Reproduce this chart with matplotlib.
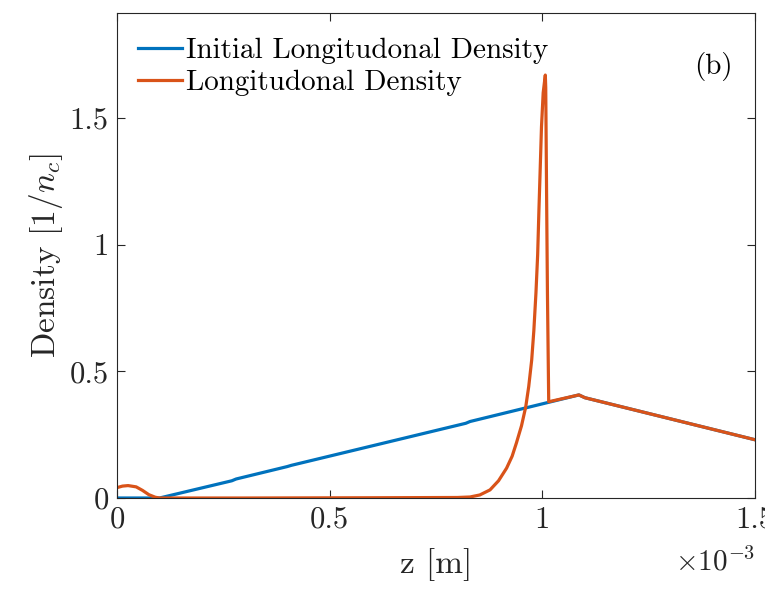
import matplotlib
matplotlib.use("Agg")
import matplotlib.pyplot as plt

plt.rcParams['font.family'] = 'serif'
plt.rcParams['font.serif'] = ['cmr10', 'DejaVu Serif']
plt.rcParams['mathtext.fontset'] = 'cm'
plt.rcParams['axes.unicode_minus'] = False

# z in units of 1e-3 m
z_init = [0.0, 0.10, 0.27, 0.28, 0.40, 0.41, 0.82, 0.83, 1.086, 1.10, 1.50]
n_init = [0.0, 0.0, 0.068, 0.075, 0.124, 0.129, 0.295, 0.302, 0.407, 0.396, 0.230]

z_long = [0.0, 0.013, 0.026, 0.045, 0.06, 0.075, 0.09, 0.10, 0.30, 0.60, 0.80,
          0.830, 0.853, 0.877, 0.897, 0.916, 0.929, 0.939, 0.951, 0.961, 0.968, 0.975,
          0.980, 0.985, 0.989, 0.992, 0.995, 0.998, 1.002, 1.007, 1.008, 1.010,
          1.012, 1.015, 1.086, 1.10, 1.50]
n_long = [0.041, 0.047, 0.049, 0.044, 0.030, 0.013, 0.003, 0.0, 0.0, 0.001, 0.002,
          0.004, 0.012, 0.032, 0.068, 0.118, 0.165, 0.217, 0.285, 0.36, 0.44, 0.545,
          0.66, 0.81, 0.96, 1.137, 1.30, 1.465, 1.60, 1.67, 1.62, 1.20,
          0.81, 0.38, 0.407, 0.396, 0.230]

xticks = [0, 0.5, 1, 1.5]
xticklabels = ['0', '0.5', '1', '1.5']
yticks = [0, 0.5, 1, 1.5]
yticklabels = ['0', '0.5', '1', '1.5']

fig = plt.figure(figsize=(7.65, 5.89), dpi=100)
ax = fig.add_axes([117/765, 1-498/589, (755-117)/765, (498-13)/589])

ax.plot(z_init, n_init, color='#0072BD', lw=2.3, label='Initial Longitudonal Density')
ax.plot(z_long, n_long, color='#D95319', lw=2.3, label='Longitudonal Density')

ax.set_xlim(0, 1.5)
ax.set_ylim(0, 1.915)
ax.set_xticks(xticks)
ax.set_xticklabels(xticklabels)
ax.set_yticks(yticks)
ax.set_yticklabels(yticklabels)
ax.tick_params(direction='in', top=True, right=True, length=6, width=0.8,
               labelsize=22, colors='#262626', pad=6)
for s in ax.spines.values():
    s.set_color('#262626')
    s.set_linewidth(0.8)

ax.set_xlabel('z [m]', fontsize=24, color='#262626', labelpad=10)
ax.set_ylabel(r'Density $[1/n_c]$', fontsize=24, color='#262626', labelpad=3)
ax.text(1.0, -0.132, r'$\times10^{-3}$', transform=ax.transAxes, ha='right', va='center',
        fontsize=21, color='#262626')
ax.text(0.935, 0.89, '(b)', transform=ax.transAxes, ha='center', va='center',
        fontsize=21, color='black')

leg = ax.legend(loc='upper left', frameon=False, fontsize=21, handlelength=1.5,
                handletextpad=0.17, borderaxespad=0.45, labelspacing=0.2,
                bbox_to_anchor=(-0.0063, 1.0))
for t in leg.get_texts():
    t.set_color('black')

fig.savefig('out.png', dpi=100)
